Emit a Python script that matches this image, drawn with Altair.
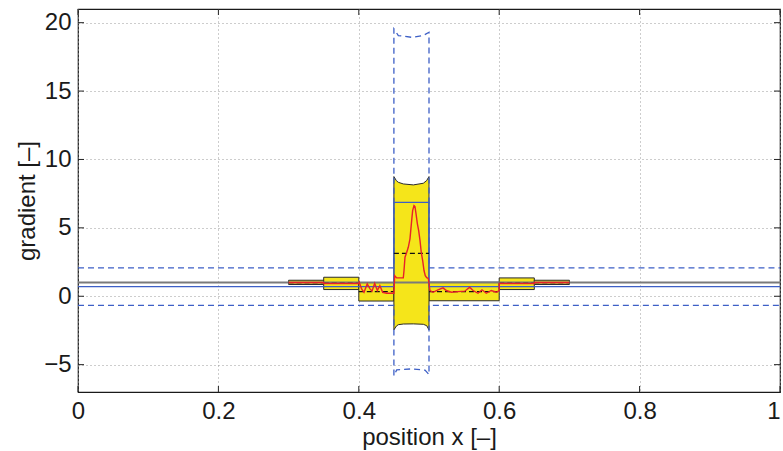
import altair as alt
import pandas as pd

# ---------------- data ----------------
# rectangular uncertainty boxes (yellow) per segment
box_x0 = [0.30, 0.35, 0.40, 0.50, 0.60, 0.65]
box_x1 = [0.35, 0.40, 0.45, 0.60, 0.65, 0.70]
box_lo = [0.86, 0.49, -0.35, -0.33, 0.49, 0.86]
box_hi = [1.17, 1.39, 1.00, 1.03, 1.34, 1.17]

# central segment band (curved top/bottom)
cen_x = [0.45, 0.4535, 0.4563, 0.4634, 0.4777, 0.4919, 0.4967, 0.50]
cen_hi = [8.75, 8.45, 8.33, 8.21, 8.14, 8.26, 8.46, 8.75]
cen_lo = [-2.46, -2.18, -2.08, -2.03, -2.02, -2.05, -2.15, -2.46]

# blue dashed envelope (upper / lower)
bu_x = [0.0, 0.45, 0.45, 0.4563, 0.4753, 0.4919, 0.50, 0.50, 1.0]
bu_y = [2.07, 2.07, 19.55, 19.06, 18.93, 19.06, 19.30, 2.07, 2.07]
bl_x = [0.0, 0.45, 0.45, 0.454, 0.4753, 0.4943, 0.50, 0.50, 1.0]
bl_y = [-0.66, -0.66, -5.80, -5.38, -5.31, -5.40, -5.72, -0.66, -0.66]

# blue solid line
bs_x = [0.0, 0.45, 0.45, 0.50, 0.50, 1.0]
bs_y = [0.71, 0.71, 6.87, 6.87, 0.71, 0.71]

# black dashed segment means
seg_x0 = [0.30, 0.35, 0.40, 0.45, 0.50, 0.60, 0.65]
seg_x1 = [0.35, 0.40, 0.45, 0.50, 0.60, 0.65, 0.70]
seg_mean = [1.00, 0.95, 0.34, 3.14, 0.34, 0.95, 1.00]

# red estimate curve
red_x = [0.300, 0.350, 0.350, 0.400, 0.4007, 0.404, 0.4074, 0.412, 0.416, 0.4188,
         0.4226, 0.4264, 0.430, 0.434, 0.4397, 0.4468, 0.4500, 0.4511, 0.454,
         0.4634, 0.4644, 0.4658, 0.4682, 0.4705, 0.4729, 0.4753, 0.4767, 0.4786,
         0.4800, 0.4815, 0.4834, 0.4853, 0.4872, 0.4890, 0.4910, 0.4929, 0.4947,
         0.4967, 0.4990, 0.5014, 0.5057, 0.5128, 0.5200, 0.5247, 0.5318, 0.5413,
         0.5509, 0.5580, 0.5627, 0.5698, 0.5755, 0.5816, 0.5887, 0.5959, 0.600,
         0.600, 0.650, 0.650, 0.700]
red_y = [1.00, 1.00, 0.93, 0.93, 1.02, 0.54, 0.29, 0.90, 0.54, 0.37,
         0.95, 0.42, 0.78, 0.29, 0.22, 0.22, 0.22, 1.50, 1.34,
         1.34, 1.88, 2.85, 3.20, 3.58, 4.20, 5.53, 6.26, 6.63,
         6.55, 6.04, 5.31, 4.80, 4.07, 3.20, 2.60, 1.88, 1.50,
         1.36, 1.30, 0.42, 0.29, 0.47, 0.61, 0.42, 0.29, 0.34,
         0.37, 0.66, 0.42, 0.22, 0.47, 0.22, 0.42, 0.29, 0.42,
         0.93, 0.93, 1.00, 1.00]

x_ticks = [0, 0.2, 0.4, 0.6, 0.8, 1.0]
y_ticks = [-5, 0, 5, 10, 15, 20]

# ---------------- styling ----------------
W, H = 702, 383
FONT = "Liberation Sans"
YELLOW = "#f5e51a"
BLUE = "#3d5fc6"
RED = "#e8202a"

xs = alt.Scale(domain=[0, 1], nice=False, zero=False)
ys = alt.Scale(domain=[-7, 21], nice=False, zero=False)
xaxis = alt.Axis(values=x_ticks, format="~g", title="position x [–]",
                 grid=True, titlePadding=2, labelFlush=False,
                 labelAlign={"condition": {"test": "datum.value >= 1", "value": "right"},
                             "value": "center"})
yaxis = alt.Axis(values=y_ticks, format="d", title="gradient [–]",
                 grid=True, titlePadding=4, labelFlush=False)

def X(field, axis=True):
    return alt.X(field, type="quantitative", scale=xs, axis=xaxis if axis else None)

def Y(field, axis=True):
    return alt.Y(field, type="quantitative", scale=ys, axis=yaxis if axis else None)

boxes = pd.DataFrame({"x0": box_x0, "x1": box_x1, "lo": box_lo, "hi": box_hi})
cen = pd.DataFrame({"x": cen_x, "hi": cen_hi, "lo": cen_lo})
bu = pd.DataFrame({"x": bu_x, "y": bu_y, "i": range(len(bu_x))})
bl = pd.DataFrame({"x": bl_x, "y": bl_y, "i": range(len(bl_x))})
bs = pd.DataFrame({"x": bs_x, "y": bs_y, "i": range(len(bs_x))})
segs = pd.DataFrame({"x0": seg_x0, "x1": seg_x1, "m": seg_mean})
red = pd.DataFrame({"x": red_x, "y": red_y, "i": range(len(red_x))})
xt = pd.DataFrame({"t": x_ticks})
yt = pd.DataFrame({"t": y_ticks})
gray = pd.DataFrame({"x": [0.0, 1.0], "y": [1.0, 1.0]})

rects = alt.Chart(boxes).mark_rect(fill=YELLOW, stroke="#2a2a2a", strokeWidth=1).encode(
    x=X("x0"), x2="x1", y=Y("lo"), y2="hi")

center = alt.Chart(cen).mark_area(fill=YELLOW, stroke="#2a2a2a", strokeWidth=1,
                                  opacity=1).encode(
    x=X("x"), y=Y("lo"), y2="hi")

gray_line = alt.Chart(gray).mark_line(color="#7a7a7a", strokeWidth=2).encode(
    x=X("x"), y=Y("y"))

blue_solid = alt.Chart(bs).mark_line(color=BLUE, strokeWidth=1.2).encode(
    x=X("x"), y=Y("y"), order="i:Q")
blue_up = alt.Chart(bu).mark_line(color=BLUE, strokeWidth=1.3, strokeDash=[6, 4]).encode(
    x=X("x"), y=Y("y"), order="i:Q")
blue_lo = alt.Chart(bl).mark_line(color=BLUE, strokeWidth=1.3, strokeDash=[6, 4]).encode(
    x=X("x"), y=Y("y"), order="i:Q")

means = alt.Chart(segs).mark_rule(color="#111", strokeWidth=1.2, strokeDash=[5, 3]).encode(
    x=X("x0"), x2="x1", y=Y("m"))

red_line = alt.Chart(red).mark_line(color=RED, strokeWidth=1.4).encode(
    x=X("x"), y=Y("y"), order="i:Q")

tick_b = alt.Chart(xt).mark_rule(color="#222").encode(
    x=X("t"), y=alt.value(H), y2=alt.value(H - 6))
tick_t = alt.Chart(xt).mark_rule(color="#222").encode(
    x=X("t"), y=alt.value(0), y2=alt.value(6))
tick_l = alt.Chart(yt).mark_rule(color="#222").encode(
    y=Y("t"), x=alt.value(0), x2=alt.value(6))
tick_r = alt.Chart(yt).mark_rule(color="#222").encode(
    y=Y("t"), x=alt.value(W), x2=alt.value(W - 6))

chart = alt.layer(
    rects, center, gray_line, blue_solid, blue_up, blue_lo, means, red_line,
    tick_b, tick_t, tick_l, tick_r
).properties(
    width=W, height=H,
    autosize=alt.AutoSizeParams(type="none"),
    padding={"left": 78, "top": 9, "right": 3, "bottom": 59},
).configure(
    background="white"
).configure_view(
    stroke="#1a1a1a", strokeWidth=1.2
).configure_axis(
    domain=False, ticks=False,
    gridColor="#9a9a9a", gridDash=[1, 3], gridWidth=1,
    labelFont=FONT, labelFontSize=24, labelColor="#1a1a1a", labelPadding=7,
    titleFont=FONT, titleFontSize=24, titleFontWeight="normal", titleColor="#1a1a1a",
)

chart.save("out.html", embed_options={"renderer": "svg", "actions": False})
